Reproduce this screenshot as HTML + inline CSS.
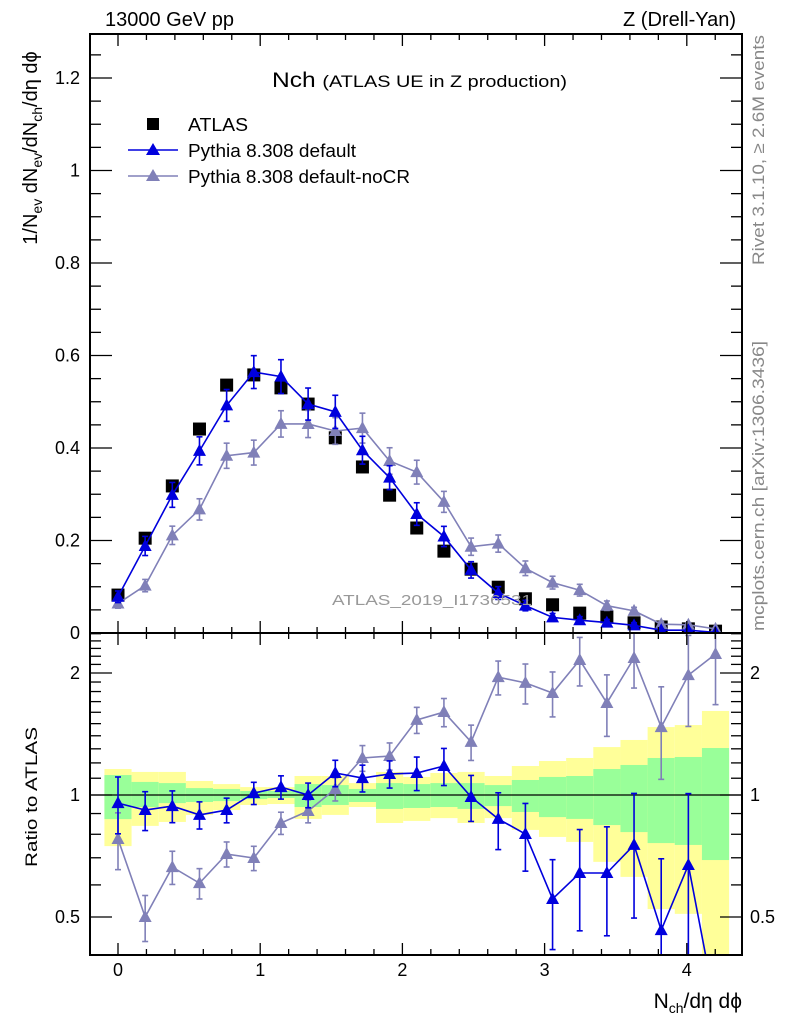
<!DOCTYPE html>
<html><head><meta charset="utf-8"><style>
html,body{margin:0;padding:0;background:#fff;width:786px;height:1024px;overflow:hidden;}
svg{display:block;font-family:"Liberation Sans",sans-serif;}
</style></head><body>
<svg id="chart" width="786" height="1024" viewBox="0 0 786 1024" xmlns="http://www.w3.org/2000/svg">
<g id="bands"></g>
<g id="marks"></g>
<g id="axes"></g>
<text x="105" y="26" font-size="20">13000 GeV pp</text>
<text x="736" y="26" font-size="20" text-anchor="end">Z (Drell-Yan)</text>
<text x="272" y="87" textLength="295" lengthAdjust="spacingAndGlyphs"><tspan font-size="21">Nch </tspan><tspan font-size="17">(ATLAS UE in Z production)</tspan></text>
<g>
 <rect x="147" y="118" width="12" height="12" fill="#000"/>
 <text x="188" y="131" font-size="18" textLength="60" lengthAdjust="spacingAndGlyphs">ATLAS</text>
 <line x1="128" y1="150" x2="178" y2="150" stroke="#0000dd" stroke-width="1.5"/>
 <polygon points="153,143 160,155 146,155" fill="#0000dd"/>
 <text x="188" y="157" font-size="18" textLength="168" lengthAdjust="spacingAndGlyphs">Pythia 8.308 default</text>
 <line x1="128" y1="176" x2="178" y2="176" stroke="#8080b8" stroke-width="1.5"/>
 <polygon points="153,169 160,181 146,181" fill="#8080b8"/>
 <text x="188" y="183" font-size="18" textLength="222" lengthAdjust="spacingAndGlyphs">Pythia 8.308 default-noCR</text>
</g>
<text x="332" y="605" font-size="15" fill="#999" textLength="200" lengthAdjust="spacingAndGlyphs">ATLAS_2019_I1736531</text>
<text transform="translate(764,150) rotate(-90)" text-anchor="middle" font-size="17" fill="#888" textLength="230" lengthAdjust="spacingAndGlyphs">Rivet 3.1.10, ≥ 2.6M events</text>
<text transform="translate(764,486) rotate(-90)" text-anchor="middle" font-size="17" fill="#888" textLength="290" lengthAdjust="spacingAndGlyphs">mcplots.cern.ch [arXiv:1306.3436]</text>
<text transform="translate(37,148) rotate(-90)" text-anchor="middle" font-size="20">1/N<tspan font-size="14" dy="5">ev</tspan><tspan dy="-5"> dN</tspan><tspan font-size="14" dy="5">ev</tspan><tspan dy="-5">/dN</tspan><tspan font-size="14" dy="5">ch</tspan><tspan dy="-5">/dη dϕ</tspan></text>
<text transform="translate(37,797) rotate(-90)" text-anchor="middle" font-size="17" textLength="140" lengthAdjust="spacingAndGlyphs">Ratio to ATLAS</text>
<text x="742" y="1008" text-anchor="end" font-size="21">N<tspan font-size="14" dy="5">ch</tspan><tspan dy="-5">/dη dϕ</tspan></text>
</svg>
<script>
const xCenters=[0,0.191,0.382,0.573,0.764,0.955,1.146,1.337,1.528,1.719,1.91,2.101,2.292,2.483,2.674,2.865,3.056,3.247,3.438,3.629,3.82,4.011,4.202];
const atlasVals=[0.082,0.205,0.318,0.441,0.536,0.558,0.530,0.495,0.422,0.359,0.298,0.227,0.177,0.138,0.099,0.074,0.061,0.043,0.035,0.022,0.013,0.009,0.004];
const defRatio=[0.955,0.918,0.939,0.893,0.918,1.011,1.046,1.0,1.133,1.101,1.127,1.133,1.179,0.989,0.873,0.801,0.554,0.642,0.642,0.753,0.464,0.672,0.30];
const defErr=[0.16,0.11,0.09,0.077,0.07,0.063,0.066,0.07,0.075,0.076,0.077,0.095,0.105,0.13,0.16,0.19,0.25,0.28,0.30,0.34,0.5,0.5,0.6];
const nocrRatio=[0.779,0.5,0.664,0.606,0.715,0.699,0.853,0.913,1.035,1.234,1.248,1.532,1.602,1.352,1.953,1.891,1.785,2.153,1.687,2.178,1.471,1.976,2.228];
const nocrErr=[0.16,0.13,0.094,0.086,0.071,0.069,0.063,0.065,0.066,0.073,0.077,0.074,0.08,0.1,0.096,0.113,0.127,0.137,0.173,0.157,0.257,0.253,0.25];
const yellowHi=[1.159,1.14,1.14,1.083,1.064,1.046,1.046,1.114,1.114,1.07,1.14,1.108,1.133,1.14,1.114,1.179,1.213,1.234,1.313,1.367,1.471,1.488,1.612];
const yellowLo=[0.748,0.839,0.858,0.893,0.918,0.945,0.95,0.873,0.893,0.934,0.853,0.863,0.877,0.853,0.877,0.82,0.788,0.766,0.684,0.628,0.523,0.509,0.32];
const greenHi=[1.12,1.077,1.07,1.04,1.035,1.023,1.023,1.064,1.058,1.035,1.07,1.064,1.07,1.07,1.058,1.089,1.108,1.114,1.159,1.186,1.234,1.241,1.306];
const greenLo=[0.872,0.934,0.955,0.961,0.966,0.977,0.983,0.934,0.945,0.961,0.924,0.929,0.934,0.924,0.939,0.908,0.882,0.873,0.843,0.81,0.761,0.753,0.691];
const xTicks=[0,1,2,3,4];
const yTicks=[0,0.2,0.4,0.6,0.8,1,1.2];
const yTickLabels=["0","0.2","0.4","0.6","0.8","1","1.2"];
const rTicks=[0.5,1,2];
const rTickLabels=["0.5","1","2"];

const NS="http://www.w3.org/2000/svg";
const L=90,R=742,T=34,MB=633,RB=955;
const X=v=>118+v*142.2;
const Y=v=>633-v*462.5;
const RY=v=>795-Math.log2(v)*122;
const HW=0.0955;
function mk(p,tag,attrs){const e=document.createElementNS(NS,tag);for(const k in attrs)e.setAttribute(k,attrs[k]);p.appendChild(e);return e;}
const bands=document.getElementById('bands'),marks=document.getElementById('marks'),axes=document.getElementById('axes');
const clampR=y=>Math.max(MB,Math.min(RB,y));
const clampM=y=>Math.max(T,Math.min(MB,y));
xCenters.forEach((c,i)=>{
 const x1=X(c-HW),x2=X(c+HW);
 let r=mk(bands,'rect',{x:x1,y:clampR(RY(yellowHi[i])),width:x2-x1,height:clampR(RY(yellowLo[i]))-clampR(RY(yellowHi[i])),fill:'#ffff99'});
 
 
 r=mk(bands,'rect',{x:x1,y:clampR(RY(greenHi[i])),width:x2-x1,height:clampR(RY(greenLo[i]))-clampR(RY(greenHi[i])),fill:'#99ff99'});
 
 
});
mk(bands,'line',{x1:L,x2:R,y1:RY(1),y2:RY(1),stroke:'#000','stroke-width':1.3});
const defs=mk(document.getElementById('chart'),'defs',{});
const cp=mk(defs,'clipPath',{id:'rc'});mk(cp,'rect',{x:L,y:MB,width:R-L,height:RB-MB});
const cm=mk(defs,'clipPath',{id:'mc'});mk(cm,'rect',{x:L,y:T,width:R-L,height:MB-T});
const gMain=mk(marks,'g',{'clip-path':'url(#mc)'});
const gRat=mk(marks,'g',{'clip-path':'url(#rc)'});
function series(g,xs,ys,yLo,yHi,color,name,cl){
 const pts=xs.map((c,i)=>{
  let x=X(c),y=ys[i];
  if(y>cl[1]+8 && i>0){ // line leaving panel: cut at panel edge
   const xp=X(xs[i-1]),yp=ys[i-1];const t=(cl[1]+8-yp)/(y-yp);x=xp+(x-xp)*t;y=cl[1]+8;
  }
  return x+','+y;}).join(' ');
 const pl=mk(g,'polyline',{points:pts,fill:'none',stroke:color,'stroke-width':1.6});
 
 
 xs.forEach((c,i)=>{
  const x=X(c);
  if(ys[i]>cl[1]+8)return;
  const yh=Math.max(cl[0],Math.min(cl[1],yHi[i])),yl=Math.max(cl[0],Math.min(cl[1],yLo[i]));
  mk(g,'line',{x1:x,x2:x,y1:yh,y2:yl,stroke:color,'stroke-width':1.6});
  if(yHi[i]>=cl[0])mk(g,'line',{x1:x-3,x2:x+3,y1:yh,y2:yh,stroke:color,'stroke-width':1.6});
  if(yLo[i]<=cl[1])mk(g,'line',{x1:x-3,x2:x+3,y1:yl,y2:yl,stroke:color,'stroke-width':1.6});
  const m=mk(g,'polygon',{points:`${x},${ys[i]-7} ${x+6.5},${ys[i]+5} ${x-6.5},${ys[i]+5}`,fill:color});
  
  
 });
}
const defMain=atlasVals.map((a,i)=>a*defRatio[i]);
const nocrMain=atlasVals.map((a,i)=>a*nocrRatio[i]);
xCenters.forEach((c,i)=>{
 const s=mk(gMain,'rect',{x:X(c)-6.5,y:Y(atlasVals[i])-6.5,width:13,height:Math.min(13,MB-(Y(atlasVals[i])-6.5)),fill:'#000'});
 
 
});
const mainCl=[T,MB],ratCl=[MB,RB];
series(gMain,xCenters,nocrMain.map(Y),nocrMain.map((v,i)=>Y(v*(1-nocrErr[i]))),nocrMain.map((v,i)=>Y(v*(1+nocrErr[i]))),'#8080b8','nocr',mainCl);
series(gMain,xCenters,defMain.map(Y),defMain.map((v,i)=>Y(v*(1-defErr[i]))),defMain.map((v,i)=>Y(v*(1+defErr[i]))),'#0000dd','default',mainCl);
series(gRat,xCenters,nocrRatio.map(RY),nocrRatio.map((v,i)=>RY(Math.max(0.05,v*(1-nocrErr[i])))),nocrRatio.map((v,i)=>RY(v*(1+nocrErr[i]))),'#8080b8','nocr-ratio',ratCl);
series(gRat,xCenters,defRatio.map(RY),defRatio.map((v,i)=>RY(Math.max(0.05,v*(1-defErr[i])))),defRatio.map((v,i)=>RY(v*(1+defErr[i]))),'#0000dd','default-ratio',ratCl);
mk(axes,'rect',{x:L,y:T,width:R-L,height:MB-T,fill:'none',stroke:'#000','stroke-width':2});
mk(axes,'rect',{x:L,y:MB,width:R-L,height:RB-MB,fill:'none',stroke:'#000','stroke-width':2});
const tk=(x1,y1,x2,y2)=>mk(axes,'line',{x1,y1,x2,y2,stroke:'#000','stroke-width':1.3});
for(let v=-0.2;v<=4.41;v+=0.2){const x=X(v);if(x<L||x>R)continue;const major=Math.abs(v-Math.round(v))<0.01;const len=major?12:6;
 tk(x,T,x,T+len);tk(x,MB,x,MB-len);tk(x,MB,x,MB+len);tk(x,RB,x,RB-len);}
xTicks.forEach(v=>{const t=mk(axes,'text',{x:X(v),y:976,'font-size':18,'text-anchor':'middle'});t.textContent=v;
 
 });
for(let v=0;v<=1.29;v+=0.05){const y=Y(v);if(y<T)continue;const major=Math.abs(v/0.2-Math.round(v/0.2))<0.01;const len=major?22:11;tk(L,y,L+len,y);tk(R,y,R-len,y);}
yTicks.forEach((v,i)=>{const t=mk(axes,'text',{x:80,y:Y(v)+6,'font-size':18,'text-anchor':'end'});t.textContent=yTickLabels[i];
 
 });
for(let v=0.4;v<=2.51;v+=0.1){const y=RY(v);if(y<MB||y>RB)continue;const major=rTicks.some(r=>Math.abs(r-v)<0.01);const len=major?22:11;tk(L,y,L+len,y);tk(R,y,R-len,y);}
rTicks.forEach((v,i)=>{
 let t=mk(axes,'text',{x:80,y:RY(v)+6,'font-size':18,'text-anchor':'end'});t.textContent=rTickLabels[i];
 
 
 t=mk(axes,'text',{x:750,y:RY(v)+6,'font-size':18});t.textContent=rTickLabels[i];
 
 
});
</script>
</body></html>
